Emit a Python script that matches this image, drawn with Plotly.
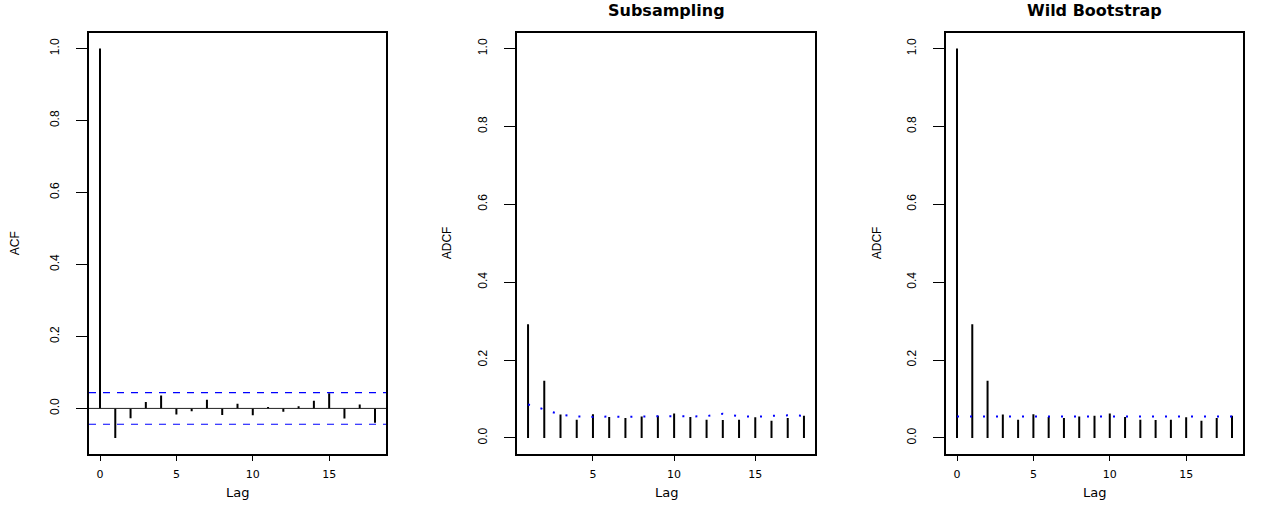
import plotly.graph_objects as go

# ---------------- data ----------------
acf_lags = list(range(0, 19))
acf_vals = [1.0, -0.082, -0.027, 0.018, 0.036, -0.017, -0.008, 0.024, -0.018,
            0.013, -0.019, 0.004, -0.009, 0.006, 0.021, 0.042, -0.028, 0.011, -0.040]
acf_clim = 0.044

sub_lags = list(range(1, 19))
adcf_vals = [0.292, 0.147, 0.060, 0.047, 0.061, 0.054, 0.051, 0.055, 0.057,
             0.063, 0.054, 0.047, 0.046, 0.047, 0.053, 0.044, 0.051, 0.057]
sub_crit = [0.086, 0.072, 0.060, 0.055, 0.054, 0.055, 0.054, 0.055, 0.056,
            0.056, 0.055, 0.056, 0.062, 0.056, 0.054, 0.057, 0.058, 0.057]

wb_lags = list(range(0, 19))
wb_vals = [1.0] + adcf_vals
wb_crit = [0.055] * 19

titles = ["", "Subsampling", "Wild Bootstrap"]
ylabels = ["ACF", "ADCF", "ADCF"]
xlabel = "Lag"
ytick_vals = [0.0, 0.2, 0.4, 0.6, 0.8, 1.0]

# ---------------- layout geometry ----------------
W, H = 1263, 508


def px(v):
    return v / W


def py(v):
    return 1 - v / H


xdoms = [(px(89), px(386)), (px(517), px(815)), (px(946), px(1243))]
ydom = (py(453.5), py(33))


def rng(lo, hi):
    d = (hi - lo) * 0.04
    return [lo - d, hi + d]


def stems(xs, ys):
    X, Y = [], []
    for a, b in zip(xs, ys):
        X += [a, a, None]
        Y += [0, b, None]
    return X, Y


fig = go.Figure()
FONT = "Liberation Sans, Arial, sans-serif"
WIDE = "DejaVu Sans, sans-serif"

# panel 1: ACF
sx, sy = stems(acf_lags, acf_vals)
fig.add_trace(go.Scatter(x=sx, y=sy, mode="lines", line=dict(color="black", width=2),
                         xaxis="x", yaxis="y", showlegend=False, hoverinfo="skip"))
# panel 2
sx, sy = stems(sub_lags, adcf_vals)
fig.add_trace(go.Scatter(x=sx, y=sy, mode="lines", line=dict(color="black", width=2),
                         xaxis="x2", yaxis="y2", showlegend=False, hoverinfo="skip"))
fig.add_trace(go.Scatter(x=sub_lags, y=sub_crit, mode="lines",
                         line=dict(color="blue", width=2, dash="2px,11px"),
                         xaxis="x2", yaxis="y2", showlegend=False, hoverinfo="skip"))
# panel 3
sx, sy = stems(wb_lags, wb_vals)
fig.add_trace(go.Scatter(x=sx, y=sy, mode="lines", line=dict(color="black", width=2),
                         xaxis="x3", yaxis="y3", showlegend=False, hoverinfo="skip"))
fig.add_trace(go.Scatter(x=wb_lags, y=wb_crit, mode="lines",
                         line=dict(color="blue", width=2, dash="2px,11px"),
                         xaxis="x3", yaxis="y3", showlegend=False, hoverinfo="skip"))

# reference lines in panel 1
fig.add_shape(type="line", xref="x domain", yref="y", x0=0, x1=1, y0=0, y1=0,
              line=dict(color="#222222", width=1))
for c in (acf_clim, -acf_clim):
    fig.add_shape(type="line", xref="x domain", yref="y", x0=0, x1=1, y0=c, y1=c,
                  line=dict(color="blue", width=1.2, dash="7px,7px"))

xranges = [rng(min(acf_lags), max(acf_lags)), rng(min(sub_lags), max(sub_lags)),
           rng(min(wb_lags), max(wb_lags))]
yranges = [rng(min(min(acf_vals), -acf_clim), max(max(acf_vals), acf_clim)),
           rng(0, 1), rng(0, 1)]
xticks = [[0, 5, 10, 15], [5, 10, 15], [0, 5, 10, 15]]

axis_common = dict(showgrid=False, zeroline=False, showline=True, mirror=True,
                   linecolor="black", linewidth=1.5, ticks="outside",
                   tickwidth=1, tickcolor="black")

lay = {}
for i in range(3):
    sfx = "" if i == 0 else str(i + 1)
    lay["xaxis" + sfx] = dict(axis_common, domain=list(xdoms[i]), range=xranges[i],
                              tickvals=xticks[i], anchor="y" + sfx, ticklen=6,
                              ticklabelstandoff=4,
                              tickfont=dict(family=WIDE, size=11, color="black"))
    lay["yaxis" + sfx] = dict(axis_common, domain=list(ydom), range=yranges[i],
                              tickvals=ytick_vals, tickformat=".1f", tickangle=-90,
                              anchor="x" + sfx, ticklen=11, ticklabelstandoff=12,
                              tickfont=dict(family=FONT, size=12, color="black"))

annotations = []
for i in range(3):
    x0, x1 = xdoms[i]
    cx = (x0 + x1) / 2
    annotations.append(dict(text=xlabel, x=cx, y=py(492), xref="paper", yref="paper",
                            showarrow=False, xanchor="center", yanchor="middle",
                            font=dict(family=WIDE, size=13, color="black")))
    ylx = [15, 447, 877][i]
    annotations.append(dict(text=ylabels[i], x=px(ylx), y=(ydom[0] + ydom[1]) / 2,
                            xref="paper", yref="paper", showarrow=False, textangle=-90,
                            xanchor="center", yanchor="middle",
                            font=dict(family=FONT, size=12, color="black")))
    if titles[i]:
        annotations.append(dict(text="<b>" + titles[i] + "</b>", x=cx, y=py(11),
                                xref="paper", yref="paper", showarrow=False,
                                xanchor="center", yanchor="middle",
                                font=dict(family=WIDE, size=16, color="black")))

fig.update_layout(width=W, height=H, autosize=False, margin=dict(l=0, r=0, t=0, b=0),
                  paper_bgcolor="white", plot_bgcolor="white", annotations=annotations,
                  **lay)

# remove the default 8px page margin so the figure fills the window exactly
fig.write_html("out.html", config={"displayModeBar": False},
               post_script="document.body.style.margin='0';")
